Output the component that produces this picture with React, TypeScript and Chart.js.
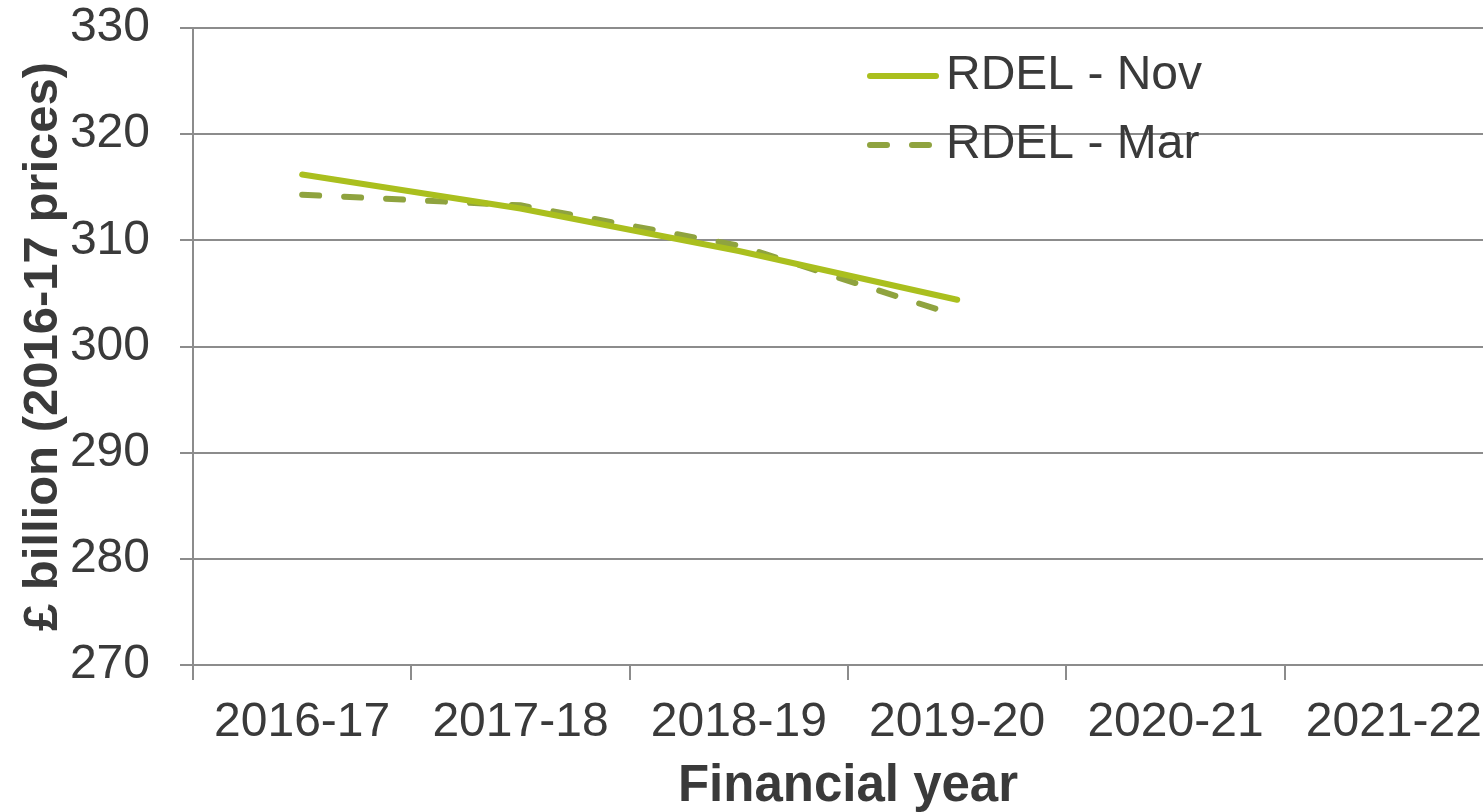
import React, { useEffect, useRef } from "react";
import { Chart, registerables } from "chart.js";

Chart.register(...registerables);

const categories = ["2016-17", "2017-18", "2018-19", "2019-20", "2020-21", "2021-22"];
const rdelNov = [316.2, 313.0, 309.0, 304.4, null, null];
const rdelMar = [314.3, 313.3, 309.5, 302.9, null, null];
const yTicks = [270, 280, 290, 300, 310, 320, 330];

const FONT = "'Liberation Sans', Arial, sans-serif";
const TEXT = "#3a3a3a";
const GRID = "#8c8c8c";
const NOV_COLOR = "#aabf1e";
const MAR_COLOR = "#8fa33f";

const legendPlugin = {
  id: "customLegend",
  afterDraw(chart: any) {
    const ctx = chart.ctx;
    const items = [
      { label: chart.data.datasets[0].label, y: 76, dash: [] as number[], color: NOV_COLOR },
      { label: chart.data.datasets[1].label, y: 145, dash: [17, 25], color: MAR_COLOR },
    ];
    ctx.save();
    items.forEach((it) => {
      ctx.beginPath();
      ctx.strokeStyle = it.color;
      ctx.lineWidth = 6;
      ctx.lineCap = "round";
      ctx.setLineDash(it.dash);
      ctx.moveTo(870, it.y);
      ctx.lineTo(936, it.y);
      ctx.stroke();
      ctx.setLineDash([]);
      ctx.fillStyle = TEXT;
      ctx.font = `48px ${FONT}`;
      ctx.textBaseline = "middle";
      ctx.textAlign = "left";
      ctx.fillText(it.label, 946, it.y);
    });
    ctx.restore();
  },
};

export default function App() {
  const ref = useRef<HTMLCanvasElement>(null);
  useEffect(() => {
    if (!ref.current) return;
    const chart = new Chart(ref.current, {
      type: "line",
      data: {
        labels: categories,
        datasets: [
          {
            label: "RDEL - Nov",
            data: rdelNov,
            borderColor: NOV_COLOR,
            backgroundColor: NOV_COLOR,
            borderWidth: 6,
            pointRadius: 0,
            borderCapStyle: "round",
            tension: 0,
          },
          {
            label: "RDEL - Mar",
            data: rdelMar,
            borderColor: MAR_COLOR,
            backgroundColor: MAR_COLOR,
            borderWidth: 6,
            borderDash: [17, 25],
            borderCapStyle: "round",
            pointRadius: 0,
            tension: 0,
          },
        ],
      },
      options: {
        animation: false,
        responsive: false,
        maintainAspectRatio: false,
        layout: { padding: { top: 28, left: 0, right: 0, bottom: 0 } },
        plugins: { legend: { display: false }, tooltip: { enabled: false } },
        scales: {
          x: {
            offset: true,
            grid: {
              offset: true,
              drawOnChartArea: false,
              color: GRID,
              lineWidth: 2,
              tickLength: 15,
            },
            border: { display: false },
            ticks: {
              color: TEXT,
              font: { family: FONT, size: 48 },
              padding: 14,
              maxRotation: 0,
              autoSkip: false,
            },
            title: {
              display: true,
              text: "Financial year",
              color: TEXT,
              font: { family: FONT, size: 51, weight: "bold", lineHeight: 1.0 },
              padding: { top: 0, bottom: 0 },
            },
            afterFit(scale: any) {
              scale.height = 147;
              scale.paddingLeft = 0;
              scale.paddingRight = 0;
            },
          },
          y: {
            min: 270,
            max: 330,
            afterBuildTicks(scale: any) {
              scale.ticks = yTicks.map((v) => ({ value: v }));
            },
            grid: { color: GRID, lineWidth: 2, tickLength: 13 },
            border: { color: GRID, width: 2 },
            ticks: {
              color: TEXT,
              font: { family: FONT, size: 48 },
              padding: 30,
            },
            title: {
              display: true,
              text: "£ billion (2016-17 prices)",
              color: TEXT,
              font: { family: FONT, size: 49, weight: "bold" },
              padding: { top: 14, bottom: 0 },
            },
            afterFit(scale: any) {
              scale.width = 193;
              scale.paddingTop = 0;
              scale.paddingBottom = 0;
            },
          },
        },
      },
      plugins: [legendPlugin],
    });
    return () => chart.destroy();
  }, []);
  return (
    <div style={{ position: "fixed", left: 0, top: 0, width: 1483, height: 812, overflow: "hidden", background: "#fff" }}>
      <canvas ref={ref} width={1503} height={812} style={{ display: "block" }} />
    </div>
  );
}
